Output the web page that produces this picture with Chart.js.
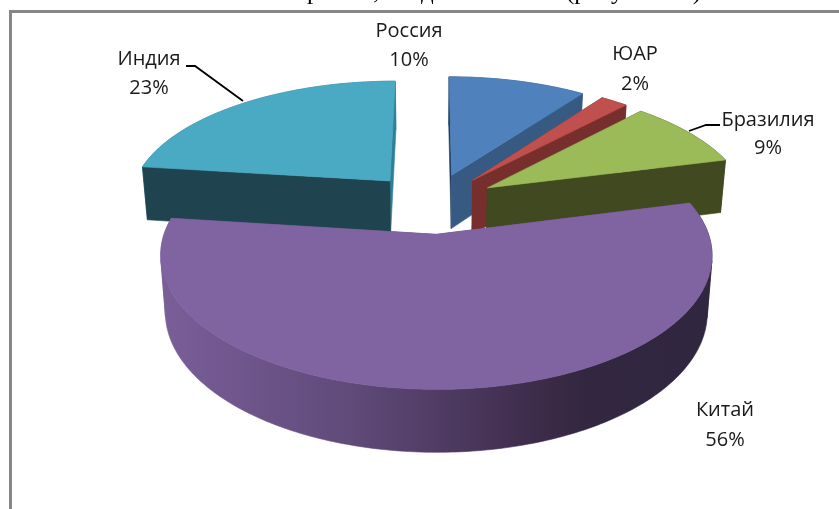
<!DOCTYPE html>
<html lang="ru">
<head>
<meta charset="utf-8">
<style>
html,body{margin:0;padding:0;background:#fff;overflow:hidden}
#wrap{position:absolute;left:0;top:0;width:839px;height:509px}
#c{filter:blur(0.45px)}
</style>
<script src="https://cdn.jsdelivr.net/npm/chart.js@4/dist/chart.umd.min.js"></script>
</head>
<body>
<div id="wrap"><canvas id="c" width="839" height="509"></canvas></div>
<script>
const categories = ["Россия", "ЮАР", "Бразилия", "Китай", "Индия"];
const shares = [10, 2, 9, 56, 23];
const topColors = ["#4f81bd", "#c0504d", "#9bbb59", "#8064a2", "#4aa9c3"];
const startWallColors = ["#1d3a5c", "#7a3231", "#40491f", "#5b4675", "#1f4450"];
const endWallColors = ["#375a82", "#772f2d", "#40491f", "#5b4675", "#2e7f97"];
const labelAnchors = [[409, 31, 60], [635, 54, 84], [768, 120, 148], [725, 410, 440], [149, 59, 88]];
const clippedCaption = [["рамме,", 307], ["данные", 421], ["(рисунок 10)", 566]];

// Projection of the pie plane into the perspective view.
const view = {x0: 432, y0: 203, ax: 262, ay: 121, k: 0.151, wall: 54.7, wallK: 0.105, wallShrink: 0.983};

function project(u, v, bottom) {
  const w = 1 - view.k * v;
  let x = view.x0 + view.ax * u / w;
  let y = view.y0 + view.ay * v / w;
  if (bottom) {
    x = view.x0 + (x - view.x0) * view.wallShrink;
    y += view.wall / (1 - view.wallK * v);
  }
  return [x, y];
}

function poly(ctx, pts, fill) {
  ctx.beginPath();
  pts.forEach((p, i) => i ? ctx.lineTo(p[0], p[1]) : ctx.moveTo(p[0], p[1]));
  ctx.closePath();
  ctx.fillStyle = fill;
  ctx.fill();
  ctx.strokeStyle = fill;
  ctx.lineWidth = 0.6;
  ctx.stroke();
}

function quadSign(a, b, c, d) {
  const pts = [a, b, c, d];
  let area = 0;
  for (let i = 0; i < 4; i++) {
    const p = pts[i], q = pts[(i + 1) % 4];
    area += p[0] * q[1] - q[0] * p[1];
  }
  return Math.sign(area);
}

// The side strip folds where it turns away from the viewer, so it is filled run by run.
function rimWall(ctx, topRim, botRim, fill) {
  let from = 0;
  const last = topRim.length - 1;
  for (let s = 1; s <= last; s++) {
    const sign = quadSign(topRim[s - 1], topRim[s], botRim[s], botRim[s - 1]);
    const next = s < last ? quadSign(topRim[s], topRim[s + 1], botRim[s + 1], botRim[s]) : 0;
    if (sign !== next) {
      poly(ctx, topRim.slice(from, s + 1).concat(botRim.slice(from, s + 1).reverse()), fill);
      from = s;
    }
  }
}

const pie3d = {
  id: "pie3d",
  beforeDatasetDraw(chart, args) {
    const ctx = chart.ctx;
    const arcs = chart.getDatasetMeta(args.index).data;
    const paintOrder = [0, 1, 2, 4, 3];
    paintOrder.forEach(i => {
      const el = arcs[i];
      const R = el.outerRadius;
      const off = el.options.offset / R;
      const mid = (el.startAngle + el.endAngle) / 2;
      const ou = Math.cos(mid) * off, ov = Math.sin(mid) * off;
      const steps = Math.max(6, Math.ceil((el.endAngle - el.startAngle) * 60));
      const rim = [];
      for (let s = 0; s <= steps; s++) {
        const a = el.startAngle + (el.endAngle - el.startAngle) * s / steps;
        rim.push([Math.cos(a) + ou, Math.sin(a) + ov]);
      }
      const topRim = rim.map(p => project(p[0], p[1], false));
      const botRim = rim.map(p => project(p[0], p[1], true));
      const apexT = project(ou, ov, false), apexB = project(ou, ov, true);
      // outer wall, shaded left to right
      let rimFill = endWallColors[i];
      if (i === 3) {
        rimFill = ctx.createLinearGradient(160, 0, 711, 0);
        rimFill.addColorStop(0, "#7a5e99");
        rimFill.addColorStop(0.35, "#5f4a79");
        rimFill.addColorStop(0.7, "#3c2a48");
        rimFill.addColorStop(0.78, "#32273f");
        rimFill.addColorStop(1, "#31263f");
      }
      rimWall(ctx, topRim, botRim, rimFill);
      // radial walls: the one facing the viewer goes last
      const startWall = [apexT, topRim[0], botRim[0], apexB];
      const endWall = [apexT, topRim[steps], botRim[steps], apexB];
      if (i === 4) {
        poly(ctx, endWall, endWallColors[i]);
        poly(ctx, startWall, startWallColors[i]);
      } else {
        poly(ctx, startWall, startWallColors[i]);
        poly(ctx, endWall, endWallColors[i]);
      }
      // top face in the colour of the arc element
      poly(ctx, [apexT].concat(topRim), el.options.backgroundColor);
    });
    return false;
  },
  afterDraw(chart) {
    const ctx = chart.ctx;
    // caption of the source page, cut off by the picture's top edge
    ctx.fillStyle = "#000";
    ctx.font = '25px "Liberation Serif"';
    ctx.textAlign = "left";
    ctx.textBaseline = "alphabetic";
    clippedCaption.forEach(c => ctx.fillText(c[0], c[1], -1));
    // outer frame of the embedded chart
    ctx.strokeStyle = "#868686";
    ctx.lineWidth = 3;
    ctx.beginPath();
    ctx.moveTo(10.5, 515);
    ctx.lineTo(10.5, 11.5);
    ctx.lineTo(845, 11.5);
    ctx.stroke();
    // leader lines
    ctx.strokeStyle = "#000";
    ctx.lineWidth = 1.8;
    ctx.beginPath();
    ctx.moveTo(186, 66); ctx.lineTo(195, 66); ctx.lineTo(243, 101);
    ctx.moveTo(720, 125); ctx.lineTo(706, 125); ctx.lineTo(689, 131);
    ctx.stroke();
    // labels
    ctx.fillStyle = "#1a1a1a";
    ctx.font = '20px "Open Sans"';
    ctx.textAlign = "center";
    ctx.textBaseline = "middle";
    categories.forEach((name, i) => {
      const p = labelAnchors[i];
      ctx.fillText(name, p[0], p[1]);
      ctx.fillText(shares[i] + "%", p[0], p[2]);
    });
  }
};

new Chart(document.getElementById("c"), {
  type: "pie",
  data: {
    labels: categories,
    datasets: [{data: shares, backgroundColor: topColors, borderWidth: 0, offset: 40, radius: 160}]
  },
  options: {
    responsive: false,
    animation: false,
    plugins: {legend: {display: false}, tooltip: {enabled: false}}
  },
  plugins: [pie3d]
});
</script>
</body>
</html>
